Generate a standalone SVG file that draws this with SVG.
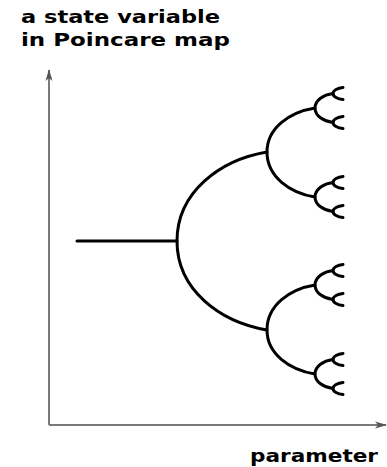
<svg xmlns="http://www.w3.org/2000/svg" width="387" height="467" viewBox="0 0 387 467">
  <style>
    .axis { stroke: #7a7a7a; stroke-width: 2; fill: none; }
    .branch { stroke: #000; stroke-width: 3; fill: none; stroke-linecap: round; }
    .label { font-family: "DejaVu Sans", Verdana, sans-serif; font-weight: bold; font-size: 18px; fill: #000; }
  </style>
  <defs>
    <marker id="head" viewBox="0 0 12 8" refX="11" refY="4" markerWidth="12" markerHeight="8" markerUnits="userSpaceOnUse" orient="auto">
      <path d="M0,0.5 L12,4 L0,7.5 L3,4 Z" fill="#555"/>
    </marker>
  </defs>

  <rect width="387" height="467" fill="#fff"/>

  <!-- axes -->
  <g id="axes">
    <path class="axis" d="M49,425 V70" marker-end="url(#head)"/>
    <path class="axis" d="M49,425 H386" marker-end="url(#head)"/>
  </g>

  <!-- period-doubling tree -->
  <g id="branches">
    <path class="branch" d="M77,241 H177"/>
    <!-- level 1 -->
    <path class="branch" d="M177,241 C177,192 220,160 267,152 M177,241 C177,290 220,322 267,330"/>
    <!-- level 2 -->
    <path class="branch" d="M267,152 C267,127.8 290,112 315,108 M267,152 C267,176.8 290,193 315,197
                            M267,330 C267,305.2 290,289 315,285 M267,330 C267,354.2 290,370 315,374"/>
    <!-- level 3 -->
    <path class="branch" d="M315,108 C315,100 323.6,94.8 333,93.5 M315,108 C315,116 323.6,121.2 333,122.5
                            M315,197 C315,189 323.6,183.8 333,182.5 M315,197 C315,205 323.6,210.2 333,211.5
                            M315,285 C315,277 323.6,271.8 333,270.5 M315,285 C315,293 323.6,298.2 333,299.5
                            M315,374 C315,366 323.6,360.8 333,359.5 M315,374 C315,382 323.6,387.2 333,388.5"/>
    <!-- level 4 -->
    <path class="branch" d="M333,93.5 C333,90.2 337.8,88 343,87.5 M333,93.5 C333,96.8 337.8,99 343,99.5
                            M333,122.5 C333,119.2 337.8,117 343,116.5 M333,122.5 C333,125.8 337.8,128 343,128.5
                            M333,182.5 C333,179.2 337.8,177 343,176.5 M333,182.5 C333,185.8 337.8,188 343,188.5
                            M333,211.5 C333,208.2 337.8,206 343,205.5 M333,211.5 C333,214.8 337.8,217 343,217.5
                            M333,270.5 C333,267.2 337.8,265 343,264.5 M333,270.5 C333,273.8 337.8,276 343,276.5
                            M333,299.5 C333,296.2 337.8,294 343,293.5 M333,299.5 C333,302.8 337.8,305 343,305.5
                            M333,359.5 C333,356.2 337.8,354 343,353.5 M333,359.5 C333,362.8 337.8,365 343,365.5
                            M333,388.5 C333,385.2 337.8,383 343,382.5 M333,388.5 C333,391.8 337.8,394 343,394.5"/>
  </g>

  <!-- axis labels -->
  <g id="labels">
    <text class="label" x="21" y="23" textLength="199" lengthAdjust="spacingAndGlyphs">a state variable</text>
    <text class="label" x="21" y="46" textLength="209" lengthAdjust="spacingAndGlyphs">in Poincare map</text>
    <text class="label" x="250" y="462" textLength="128" lengthAdjust="spacingAndGlyphs">parameter</text>
  </g>
</svg>
